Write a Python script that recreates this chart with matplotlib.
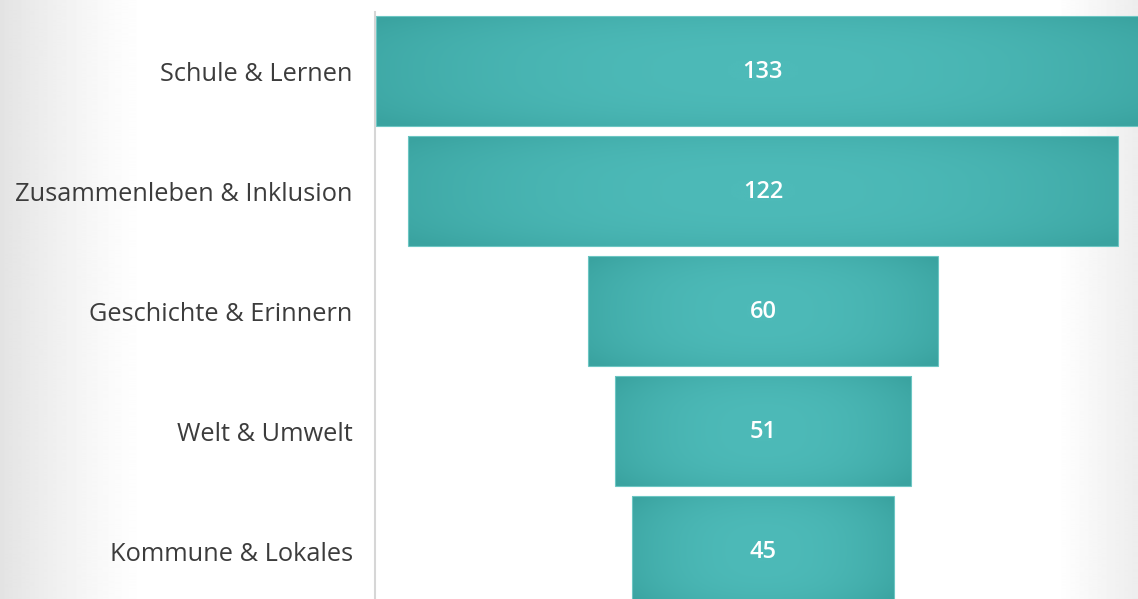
import numpy as np
import matplotlib.pyplot as plt
from matplotlib.patches import Rectangle
from matplotlib.colors import LinearSegmentedColormap

# Daten
kategorien = ['Schule & Lernen', 'Zusammenleben & Inklusion', 'Geschichte & Erinnern',
              'Welt & Umwelt', 'Kommune & Lokales']
anzahl = [133, 122, 60, 51, 45]

plt.rcParams['font.family'] = ['Open Sans', 'DejaVu Sans']

fig = plt.figure(figsize=(11.38, 5.99), dpi=100)

# Hintergrund mit leichtem grauen Verlauf links und rechts
bg = fig.add_axes([0, 0, 1, 1], zorder=-1)
xs = np.linspace(0, 1, 1138)
links = np.clip(1 - xs / 0.13, 0, 1)
rechts = np.clip((xs - 0.93) / 0.07, 0, 1)
grau = 1 - 0.11 * links ** 1.3 - 0.07 * rechts
bg.imshow(np.tile(grau, (2, 1)), cmap='gray', vmin=0, vmax=1, aspect='auto', extent=[0, 1, 0, 1])
bg.axis('off')

# Hauptachse
ax = fig.add_axes([375 / 1138, 0, 1 - 375 / 1138, 587 / 599])
ax.set_facecolor('none')

teal = LinearSegmentedColormap.from_list('teal', ['#4dbab8', '#3aa3a0'])
u = np.linspace(-1, 1, 300)
w = np.linspace(-1, 1, 80)
U, W = np.meshgrid(u, w)
verlauf = np.clip(0.7 * np.abs(U) ** 2.2 + 0.4 * np.abs(W) ** 3, 0, 1)

h = 0.917
for i, v in enumerate(anzahl):
    x0 = -v / 2
    rect = Rectangle((x0, i - h / 2), v, h, facecolor='none', edgecolor='#6cc6c3', lw=0.8)
    ax.add_patch(rect)
    img = ax.imshow(verlauf, cmap=teal, vmin=0, vmax=1, aspect='auto',
                    extent=[x0, x0 + v, i + h / 2, i - h / 2], interpolation='bilinear')
    img.set_clip_path(rect)
    ax.text(0, i + 0.01, str(v), ha='center', va='center', color='white', fontsize=17,
            fontweight='semibold')

ax.set_xlim(-66.67, 64.44)
ax.set_ylim(4.4, -0.4917)
ax.set_yticks(range(len(kategorien)))
ax.set_yticklabels(kategorien, fontsize=18.3, color='#3c3c3c')
ax.tick_params(axis='y', length=0, pad=16)
ax.set_xticks([])
for s in ['top', 'right', 'bottom']:
    ax.spines[s].set_visible(False)
ax.spines['left'].set_color('#d6d6d6')
ax.spines['left'].set_linewidth(1.5)

fig.savefig('out.png', dpi=100)
